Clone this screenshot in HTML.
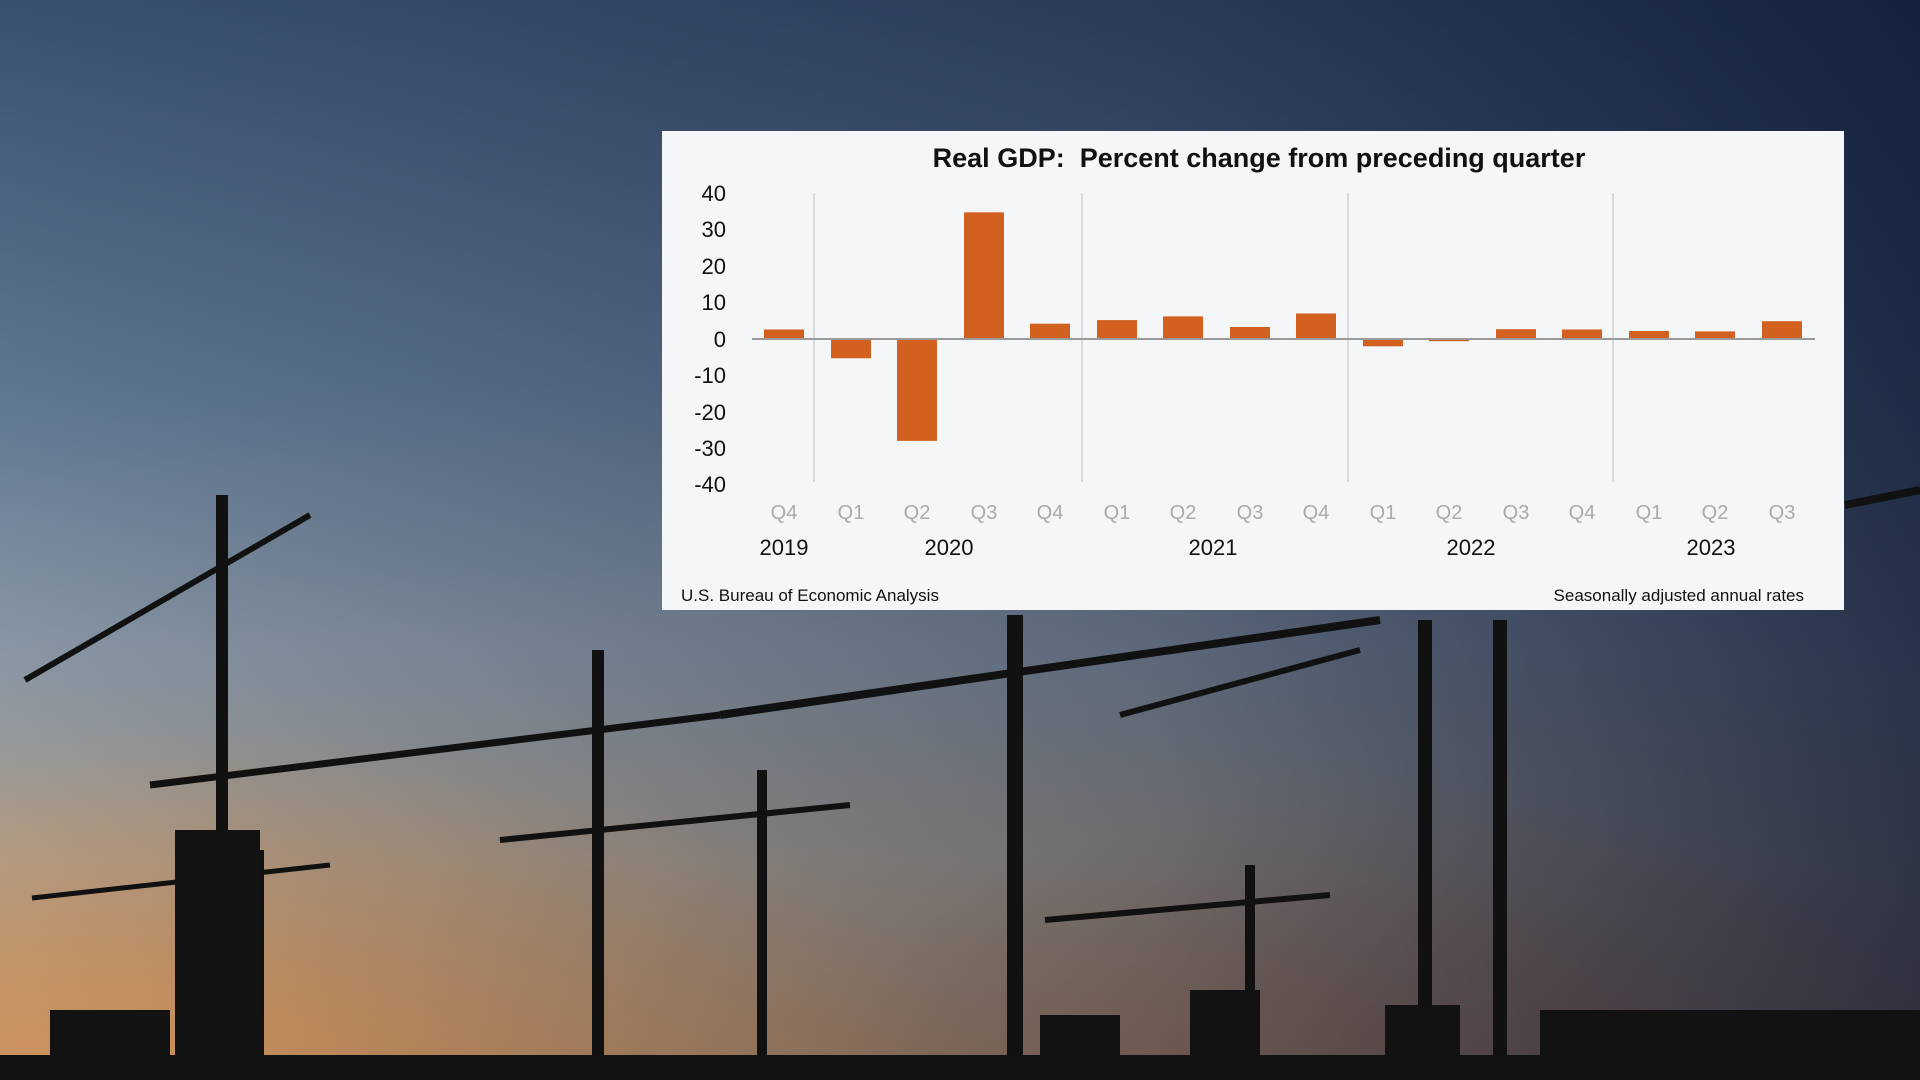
<!DOCTYPE html>
<html><head><meta charset="utf-8"><style>
html,body{margin:0;padding:0;width:1920px;height:1080px;overflow:hidden}
body{position:relative;font-family:"Liberation Sans",sans-serif;
background:
 radial-gradient(ellipse 1100px 500px at 200px 1080px, rgba(214,150,90,0.95), rgba(214,150,90,0) 70%),
 radial-gradient(ellipse 900px 400px at 1400px 1080px, rgba(150,110,90,0.7), rgba(150,110,90,0) 70%),
 linear-gradient(to bottom,#3a5070 0%,#5d7590 35%,#8896a4 60%,#a59c90 80%,#b08a68 100%);}
.dark{position:absolute;inset:0;background:linear-gradient(to right,rgba(0,0,0,0) 0%,rgba(10,20,45,0.35) 60%,rgba(8,18,45,0.75) 100%)}
svg{position:absolute;left:0;top:0}
</style></head><body>
<div class="dark"></div>
<svg width="1920" height="1080" viewBox="0 0 1920 1080">
 <g stroke="#111" fill="none">
  <line x1="222" y1="495" x2="222" y2="1080" stroke-width="12"/>
  <line x1="25" y1="680" x2="310" y2="515" stroke-width="6"/>
  <line x1="150" y1="785" x2="720" y2="715" stroke-width="7"/>
  <line x1="720" y1="715" x2="1380" y2="620" stroke-width="8"/>
  <line x1="598" y1="650" x2="598" y2="1080" stroke-width="12"/>
  <line x1="500" y1="840" x2="850" y2="805" stroke-width="6"/>
  <line x1="762" y1="770" x2="762" y2="1080" stroke-width="10"/>
  <line x1="1015" y1="615" x2="1015" y2="1080" stroke-width="16"/>
  <line x1="1425" y1="620" x2="1425" y2="1080" stroke-width="14"/>
  <line x1="1500" y1="620" x2="1500" y2="1080" stroke-width="14"/>
  <line x1="1120" y1="715" x2="1360" y2="650" stroke-width="6"/>
  <line x1="1045" y1="920" x2="1330" y2="895" stroke-width="6"/>
  <line x1="1250" y1="865" x2="1250" y2="1080" stroke-width="10"/>
  <line x1="32" y1="898" x2="330" y2="865" stroke-width="5"/>
  <line x1="260" y1="850" x2="260" y2="1080" stroke-width="8"/>
  <line x1="1845" y1="505" x2="1920" y2="490" stroke-width="8"/>
 </g>
 <g fill="#121212">
  <rect x="175" y="830" width="85" height="250"/>
  <rect x="50" y="1010" width="120" height="70"/>
  <rect x="1040" y="1015" width="80" height="65"/>
  <rect x="1190" y="990" width="70" height="90"/>
  <rect x="1385" y="1005" width="75" height="75"/>
  <rect x="1540" y="1010" width="380" height="70"/>
  <rect x="0" y="1055" width="1920" height="25"/>
 </g>
</svg>
<svg width="1920" height="1080" viewBox="0 0 1920 1080" font-family="Liberation Sans, sans-serif">
 <rect x="662" y="131" width="1182" height="479" fill="#f5f6f7"/>
 <text x="1259" y="167" text-anchor="middle" font-size="27" font-weight="bold" fill="#111" xml:space="preserve">Real GDP:  Percent change from preceding quarter</text>
 <g stroke="#d0d0d0" stroke-width="1.5">
  <line x1="814" y1="193" x2="814" y2="482"/>
  <line x1="1082" y1="193" x2="1082" y2="482"/>
  <line x1="1348" y1="193" x2="1348" y2="482"/>
  <line x1="1613" y1="193" x2="1613" y2="482"/>
 </g>
 <g font-size="22" fill="#111" text-anchor="end">
  <text x="726" y="201">40</text><text x="726" y="237">30</text><text x="726" y="274">20</text>
  <text x="726" y="310">10</text><text x="726" y="347">0</text><text x="726" y="383">-10</text>
  <text x="726" y="420">-20</text><text x="726" y="456">-30</text><text x="726" y="492">-40</text>
 </g>
 <g fill="#d2601e">
  <rect x="764" y="329.5" width="40" height="9.5"/>
  <rect x="831" y="339" width="40" height="19.3"/>
  <rect x="897" y="339" width="40" height="101.9"/>
  <rect x="964" y="212.3" width="40" height="126.7"/>
  <rect x="1030" y="323.7" width="40" height="15.3"/>
  <rect x="1097" y="320.1" width="40" height="18.9"/>
  <rect x="1163" y="316.4" width="40" height="22.6"/>
  <rect x="1230" y="327" width="40" height="12"/>
  <rect x="1296" y="313.5" width="40" height="25.5"/>
  <rect x="1363" y="339" width="40" height="7.3"/>
  <rect x="1429" y="339" width="40" height="2.2"/>
  <rect x="1496" y="329.2" width="40" height="9.8"/>
  <rect x="1562" y="329.5" width="40" height="9.5"/>
  <rect x="1629" y="331" width="40" height="8"/>
  <rect x="1695" y="331.4" width="40" height="7.6"/>
  <rect x="1762" y="321.2" width="40" height="17.8"/>
 </g>
 <line x1="752" y1="339" x2="1815" y2="339" stroke="#999" stroke-width="2"/>
 <g font-size="20" fill="#aaa" text-anchor="middle">
  <text x="784" y="519">Q4</text><text x="851" y="519">Q1</text><text x="917" y="519">Q2</text><text x="984" y="519">Q3</text>
  <text x="1050" y="519">Q4</text><text x="1117" y="519">Q1</text><text x="1183" y="519">Q2</text><text x="1250" y="519">Q3</text>
  <text x="1316" y="519">Q4</text><text x="1383" y="519">Q1</text><text x="1449" y="519">Q2</text><text x="1516" y="519">Q3</text>
  <text x="1582" y="519">Q4</text><text x="1649" y="519">Q1</text><text x="1715" y="519">Q2</text><text x="1782" y="519">Q3</text>
 </g>
 <g font-size="22" fill="#111" text-anchor="middle">
  <text x="784" y="555">2019</text><text x="949" y="555">2020</text><text x="1213" y="555">2021</text>
  <text x="1471" y="555">2022</text><text x="1711" y="555">2023</text>
 </g>
 <text x="681" y="601" font-size="17" fill="#111">U.S. Bureau of Economic Analysis</text>
 <text x="1804" y="601" font-size="17" fill="#111" text-anchor="end">Seasonally adjusted annual rates</text>
</svg>
</body></html>
